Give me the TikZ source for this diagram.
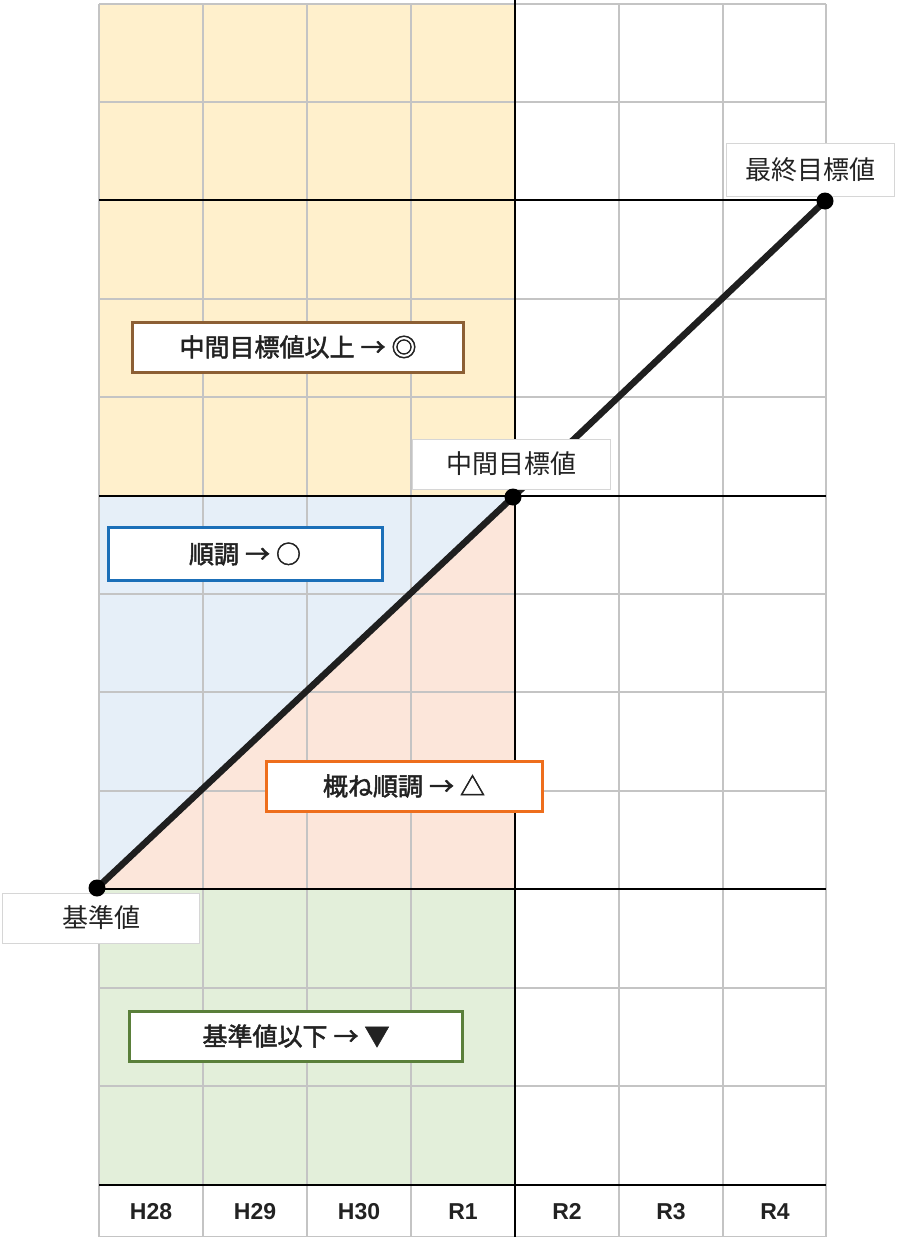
\documentclass[tikz,border=0pt]{standalone}
\usepackage{fontspec}
\setmainfont{Liberation Sans}
\newfontfamily\cjk{Noto Sans CJK JP}
\newfontfamily\cjkb{Noto Sans CJK JP}[FakeBold=2]
\definecolor{gridgray}{HTML}{C4C4C4}
\definecolor{yel}{HTML}{FFF0CC}
\definecolor{blu}{HTML}{E6EFF8}
\definecolor{pnk}{HTML}{FCE6DA}
\definecolor{grn}{HTML}{E3EFDA}
\definecolor{brn}{HTML}{8C5F34}
\definecolor{bluB}{HTML}{1B6FB8}
\definecolor{orgB}{HTML}{EE6E1C}
\definecolor{grnB}{HTML}{5A7F3A}
\definecolor{txt}{HTML}{222222}
\newcommand{\arr}{\hspace{6pt}→\hspace{6pt}}
\tikzset{
  gline/.style={draw=gridgray, line width=2.6pt},
  kline/.style={draw=black, line width=1.4pt},
  ptlabel/.style={draw=gridgray!70, line width=1pt, fill=white, font=\cjk\fontsize{26}{28}\selectfont, text=txt, inner sep=0pt},
  judge/.style={line width=3pt, fill=white, font=\cjkb\fontsize{25}{28}\selectfont, text=txt, inner sep=0pt},
  yr/.style={font=\bfseries\fontsize{23}{26}\selectfont, text=txt, anchor=base},
  dot/.style={circle, fill=black, inner sep=0pt, minimum size=17pt}
}
\begin{document}
\begin{tikzpicture}[x=1pt,y=-1pt]
\useasboundingbox (0,0) rectangle (921,1237);
\fill[white] (0,0) rectangle (921,1237);
% fills
\fill[yel] (99,4) rectangle (515,496);
\fill[blu] (99,496) -- (515,496) -- (99,889) -- cycle;
\fill[pnk] (515,496) -- (515,889) -- (99,889) -- cycle;
\fill[grn] (99,889) rectangle (515,1185);
% gray grid
\foreach \x in {99,203,307,411,619,723,826} \draw[gline] (\x,4) -- (\x,1237);
\foreach \y in {4,102,299,397,594,692,791,988,1086,1237} \draw[gline] (99,\y) -- (826,\y);
% black lines
\draw[kline] (515,0) -- (515,1237);
\foreach \y in {200,496,889,1185} \draw[kline] (99,\y) -- (826,\y);
% point coordinates and line
\coordinate (base) at (97,888);
\coordinate (mid) at (513,497);
\coordinate (final) at (825,201);
\draw[line width=6.5pt, draw=black!88] (base) -- (mid) -- (final);
% point labels
\node[ptlabel, minimum width=198pt, minimum height=50pt] (lmid) at (511,464) {中間目標値};
\node[ptlabel, minimum width=168pt, minimum height=53pt] (lfinal) at (810,170) {最終目標値};
\node[ptlabel, minimum width=197pt, minimum height=50pt] (lbase) at (101,918) {基準値};
% dots
\node[dot] (dbase) at (base) {};
\node[dot] (dmid) at (mid) {};
\node[dot] (dfinal) at (final) {};
% judgement boxes
\node[judge, draw=brn, minimum width=331pt, minimum height=50pt] (j1) at (298,347) {中間目標値以上\arr◎};
\node[judge, draw=bluB, minimum width=274pt, minimum height=53pt] (j2) at (245,554) {順調\arr○};
\node[judge, draw=orgB, minimum width=276pt, minimum height=50pt] (j3) at (404,786) {概ね順調\arr△};
\node[judge, draw=grnB, minimum width=333pt, minimum height=50pt] (j4) at (296,1036) {基準値以下\arr▼};
% years
\node[yr] (y1) at (151,1219) {H28};
\node[yr] (y2) at (255,1219) {H29};
\node[yr] (y3) at (359,1219) {H30};
\node[yr] (y4) at (463,1219) {R1};
\node[yr] (y5) at (567,1219) {R2};
\node[yr] (y6) at (671,1219) {R3};
\node[yr] (y7) at (775,1219) {R4};
\end{tikzpicture}
\end{document}
